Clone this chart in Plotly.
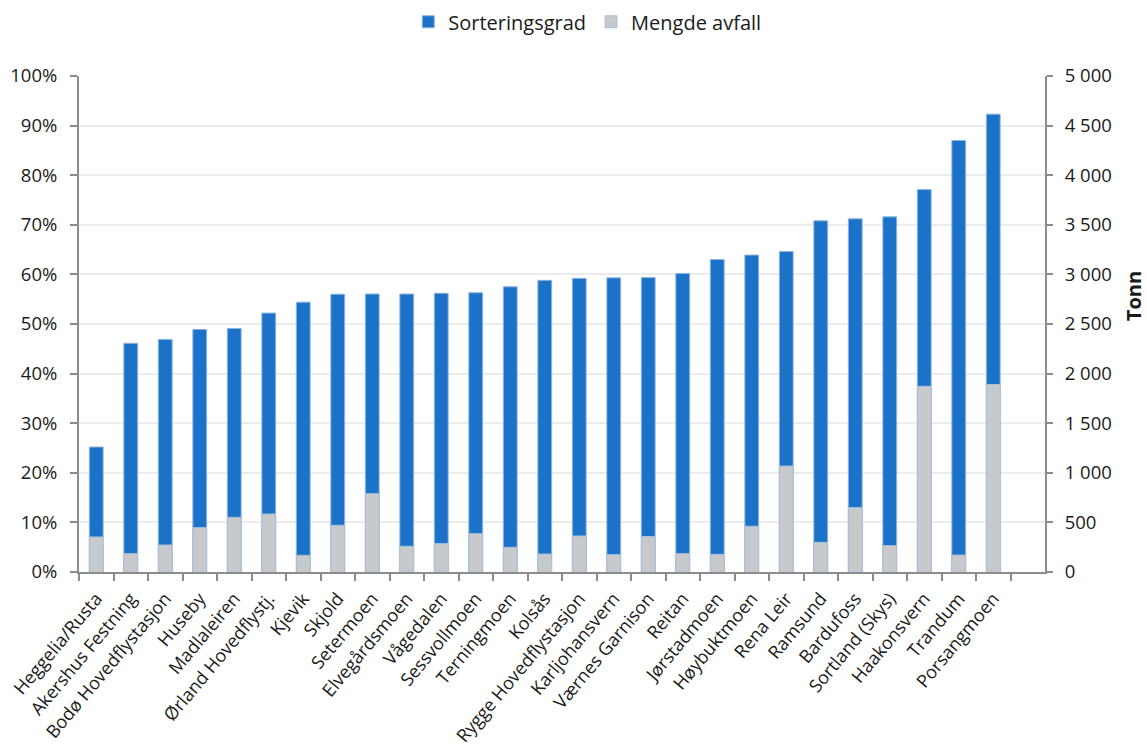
import plotly.graph_objects as go

categories = [
    "Heggelia/Rusta", "Akershus Festning", "Bodø Hovedflystasjon", "Huseby",
    "Madlaleiren", "Ørland Hovedflystj.", "Kjevik", "Skjold", "Setermoen",
    "Elvegårdsmoen", "Vågedalen", "Sessvollmoen", "Terningmoen", "Kolsås",
    "Rygge Hovedflystasjon", "Karljohansvern", "Værnes Garnison", "Reitan",
    "Jørstadmoen", "Høybuktmoen", "Rena Leir", "Ramsund", "Bardufoss",
    "Sortland (Skys)", "Haakonsvern", "Trandum", "Porsangmoen",
]
sorteringsgrad = [
    25.2, 46.1, 46.9, 48.9, 49.1, 52.2, 54.4, 56.0, 56.05,
    56.05, 56.2, 56.3, 57.5, 58.8, 59.2, 59.3, 59.35, 60.2,
    63.0, 63.9, 64.6, 70.8, 71.2, 71.6, 77.1, 87.0, 92.3,
]
mengde_avfall = [
    353, 185, 272, 447, 551, 585, 168, 471, 790,
    259, 286, 387, 249, 181, 363, 175, 357, 185,
    178, 461, 1068, 299, 649, 266, 1872, 171, 1890,
]

FONT = "Open Sans"
AXIS_COLOR = "#8c8c8c"

fig = go.Figure()
fig.add_trace(go.Bar(
    x=categories, y=sorteringsgrad, name="Sorteringsgrad",
    marker=dict(color="#1b72c9", line=dict(color="#8fb3de", width=1)),
    width=0.4, offsetgroup="a", yaxis="y",
))
fig.add_trace(go.Bar(
    x=categories, y=mengde_avfall, name="Mengde avfall",
    marker=dict(color="#c8c9cb", line=dict(color="#a9c0dc", width=1)),
    width=0.4, offsetgroup="a", yaxis="y2",
))

fig.update_layout(
    width=1147, height=751,
    margin=dict(l=79, r=102, t=76, b=179),
    paper_bgcolor="white", plot_bgcolor="white",
    font=dict(family=FONT, size=18, color="#1a1a1a"),
    separators=", ",
    barmode="overlay",
    showlegend=True,
    legend=dict(
        orientation="h", xref="container", x=0.512, xanchor="center",
        yref="container", y=0.997, yanchor="top",
        font=dict(size=20), itemwidth=30, traceorder="normal",
    ),
    xaxis=dict(
        type="category", categoryorder="array", categoryarray=categories,
        range=[-0.5, 27.5], tickangle=-50, tickson="boundaries",
        ticks="outside", ticklen=7, tickwidth=2, tickcolor=AXIS_COLOR,
        ticklabelstandoff=7, automargin=False,
        showline=True, linecolor=AXIS_COLOR, linewidth=2,
        showgrid=False, tickfont=dict(size=18),
    ),
    yaxis=dict(
        range=[0, 100], dtick=10, ticksuffix="%",
        showline=True, linecolor=AXIS_COLOR, linewidth=2,
        ticks="outside", ticklen=7, tickwidth=2, tickcolor=AXIS_COLOR,
        ticklabelstandoff=9, tickfont=dict(size=18.5), automargin=False,
        showgrid=True, gridcolor="#ececec", gridwidth=2,
        zeroline=False,
    ),
    yaxis2=dict(
        range=[0, 5000], dtick=500, tickformat=",d",
        overlaying="y", side="right",
        showline=True, linecolor=AXIS_COLOR, linewidth=2,
        ticks="outside", ticklen=6, tickwidth=2, tickcolor=AXIS_COLOR,
        ticklabelstandoff=8, tickfont=dict(size=18.5), automargin=False,
        showgrid=False, zeroline=False,
    ),
    annotations=[dict(
        text="<b>Tonn</b>", textangle=-90, showarrow=False,
        xref="paper", yref="paper", x=1.091, y=0.556,
        xanchor="center", yanchor="middle", font=dict(size=20),
    )],
)

fig.write_html("out.html")
